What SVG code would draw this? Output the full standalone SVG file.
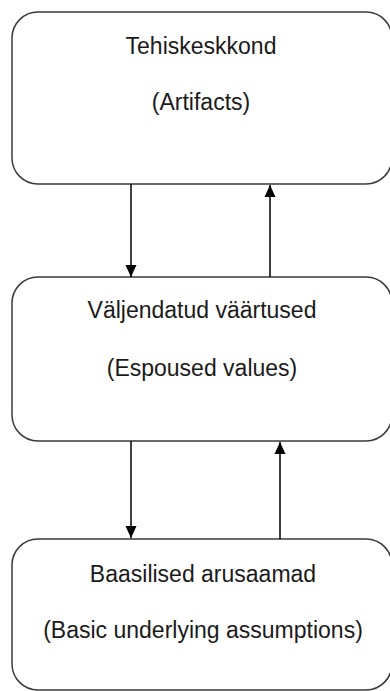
<svg xmlns="http://www.w3.org/2000/svg" width="390" height="691" viewBox="0 0 390 691">
  <defs>
    <marker id="arrow" viewBox="0 0 12 12" refX="12" refY="6" markerWidth="12" markerHeight="12" markerUnits="userSpaceOnUse" orient="auto">
      <path d="M0,0.5 L12,6 L0,11.5 Z" fill="#000"/>
    </marker>
  </defs>
  <style>
    .box { fill: #fff; stroke: #3a3a3a; stroke-width: 1.5; }
    .label { font-family: "Liberation Sans", Arial, sans-serif; font-size: 23px; fill: #1a1a1a; text-anchor: middle; }
    .conn { stroke: #000; stroke-width: 1.5; fill: none; marker-end: url(#arrow); }
  </style>
  <rect width="390" height="691" fill="#fff"/>
  <g id="node-artifacts">
    <rect class="box" x="12" y="12" width="380" height="172" rx="26" ry="26"/>
    <text class="label" x="201" y="54">Tehiskeskkond</text>
    <text class="label" x="201" y="110">(Artifacts)</text>
  </g>
  <g id="node-values">
    <rect class="box" x="12" y="277" width="380" height="164" rx="26" ry="26"/>
    <text class="label" x="202" y="318">Väljendatud väärtused</text>
    <text class="label" x="202" y="376">(Espoused values)</text>
  </g>
  <g id="node-assumptions">
    <rect class="box" x="12" y="539" width="380" height="151" rx="26" ry="26"/>
    <text class="label" x="203" y="582">Baasilised arusaamad</text>
    <text class="label" x="203" y="638">(Basic underlying assumptions)</text>
  </g>
  <g id="connectors">
    <line class="conn" x1="131" y1="184" x2="131" y2="277"/>
    <line class="conn" x1="270" y1="277" x2="270" y2="185"/>
    <line class="conn" x1="131" y1="441" x2="131" y2="538"/>
    <line class="conn" x1="280" y1="539" x2="280" y2="442"/>
  </g>
</svg>
